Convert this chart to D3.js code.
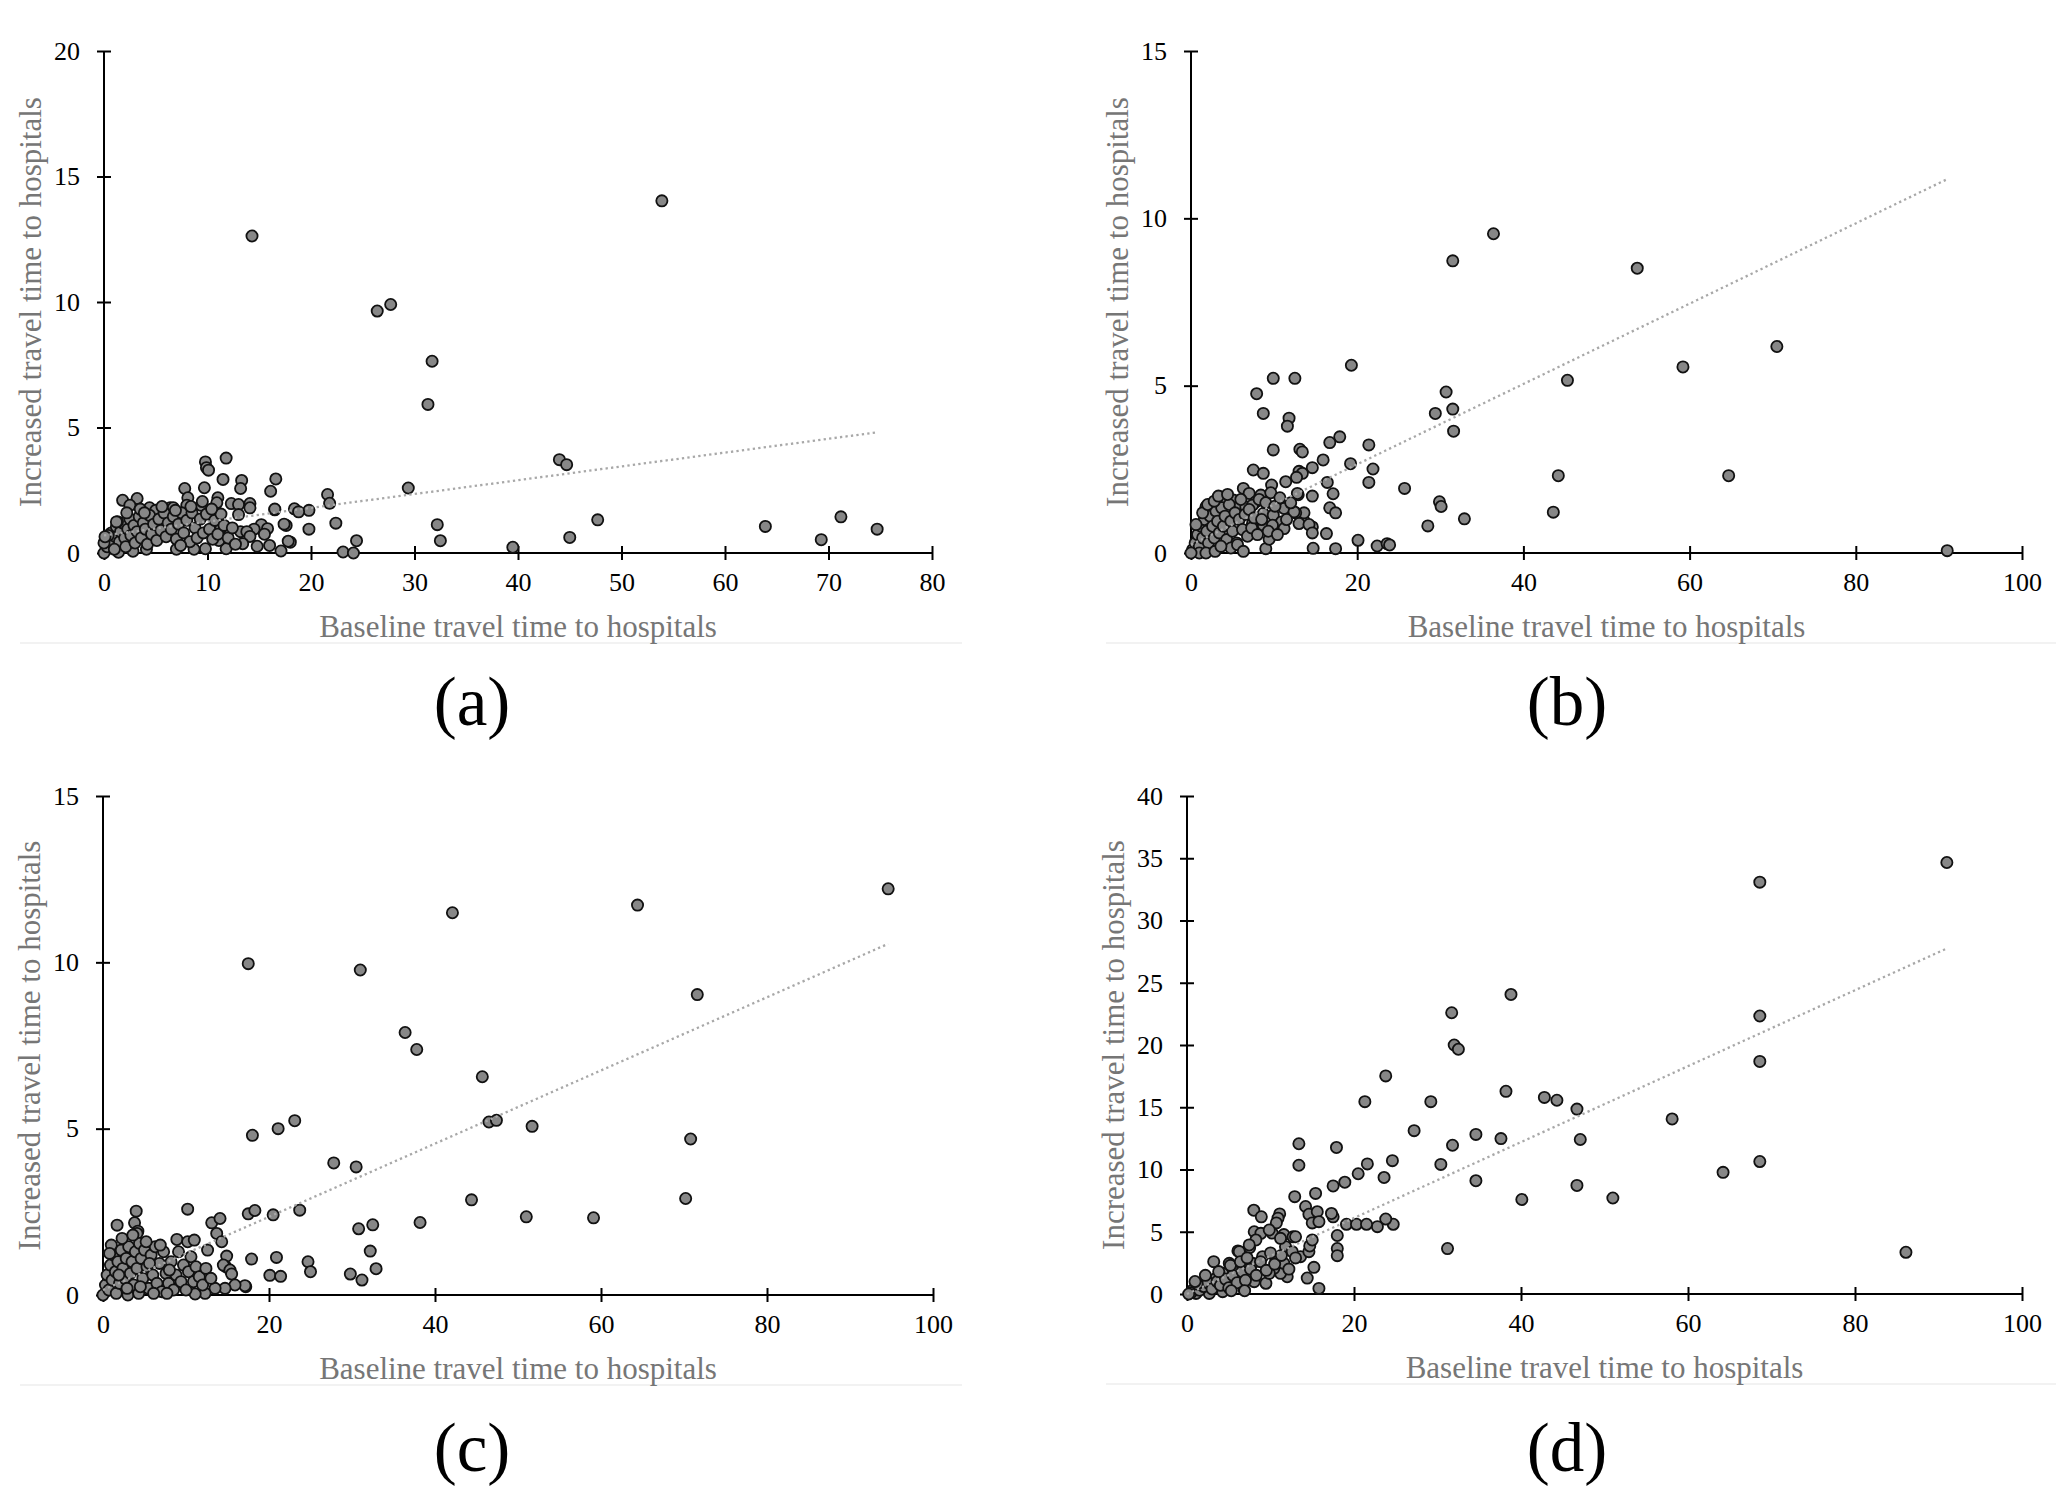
<!DOCTYPE html>
<html><head><meta charset="utf-8">
<script src="https://cdn.jsdelivr.net/npm/d3@7/dist/d3.min.js"></script>
<style>html,body{margin:0;padding:0;background:#fff;}svg{display:block;}</style>
</head><body>
<script>
// ---------------- data ----------------
const panelLabels = ["(a)", "(b)", "(c)", "(d)"];
const xTitle = "Baseline travel time to hospitals";
const yTitle = "Increased travel time to hospitals";

const xMaxes = [80, 100, 100, 100];
const yMaxes = [20, 15, 15, 40];
const xTickSteps = [10, 20, 20, 20];
const yTickSteps = [5, 5, 5, 5];

// linear trend lines: [intercept, slope, xStart, xEnd]
const trendA = [0.7, 0.055, 0, 74.7];
const trendB = [0.25, 0.12, 0, 91.0];
const trendC = [0.15, 0.11, 0, 94.6];
const trendD = [0.0, 0.305, 0, 91.0];

const pointsA = [
[14.3,12.63],[53.9,14.03],[26.4,9.64],[27.7,9.9],[31.7,7.64],[31.3,5.92],[29.4,2.59],[32.2,1.13],[32.5,0.49],[39.5,0.23],
[44.0,3.72],[44.7,3.52],[45.0,0.62],[47.7,1.32],[63.9,1.06],[69.3,0.53],[71.2,1.44],[74.7,0.95],
[21.6,2.33],[21.8,1.98],[22.4,1.19],[23.1,0.04],[24.1,0.0],[24.4,0.49],
[19.8,1.70],[19.8,0.95],[18.4,1.76],[18.8,1.64],[17.6,1.1],[18.0,0.43],[17.1,0.08],[16.6,2.95],[16.1,2.46],[16.5,1.72],
[11.8,3.78],[9.8,3.63],[9.9,3.4],[10.1,3.3],[11.5,2.93],[13.3,2.89],[13.2,2.57],[9.7,2.6],[7.8,2.57],
[12.3,1.97],[13.0,1.93],[14.1,1.97],[14.1,1.8],[13.0,1.53],[16.5,1.75],[17.4,1.15],[15.2,1.13],[15.8,0.97],[14.5,0.95],
[13.2,0.85],[13.8,0.85],[14.1,0.66],[13.4,0.37],[14.8,0.27],[17.8,0.47],[11.8,0.17],[9.8,0.17],[8.7,0.15],[7.0,0.15],
[4.1,0.15],[2.8,0.07],[1.4,0.03],[0.0,0.0],[11.3,0.99],[11.1,0.5],
[1.8,2.1],[3.2,2.17],[2.5,1.9],[11.0,2.2],[10.9,2.0],[8.1,2.2],[8.0,1.9],[9.4,1.9],[4.4,1.8],[5.0,1.7],[6.4,1.8],[6.7,1.8],
[0.3,0.25],[0.5,0.5],[0.7,0.8],[0.9,0.35],[1.1,0.65],[1.2,1.05],[1.5,0.45],[1.6,0.85],[1.8,1.2],[2.0,0.6],[2.1,0.25],
[2.3,0.95],[2.5,1.35],[2.6,0.7],[2.9,1.1],[3.0,0.4],[3.2,0.85],[3.4,1.45],[3.6,0.6],[3.8,1.2],[4.0,0.95],[4.2,0.35],
[4.4,1.5],[4.6,0.75],[4.8,1.15],[5.1,0.5],[5.3,1.35],[5.5,0.9],[5.8,1.6],[6.0,0.65],[6.2,1.2],[6.5,0.95],[6.7,1.45],
[7.0,0.55],[7.2,1.15],[7.5,1.6],[7.7,0.8],[8.0,1.3],[8.3,0.45],[8.5,1.6],[8.8,1.0],[9.0,0.6],[9.3,1.35],[9.6,0.8],
[9.9,1.55],[10.2,0.95],[10.5,0.55],[10.7,1.3],[11.0,0.75],[11.3,1.55],[11.6,1.1],[12.0,0.6],[2.2,1.6],[3.5,1.75],
[5.6,1.85],[6.9,1.7],[8.4,1.85],[9.5,2.05],[10.4,1.75],[0.4,0.7],[1.3,1.25],[1.0,0.15],[3.9,1.6],[7.4,0.3],[12.4,1.0],
[12.7,0.35],[15.5,0.75],[16.0,0.3],[1.2,1.24],[0.0,0.4],[0.1,0.65]
];

const pointsB = [
[36.4,9.54],[31.5,8.73],[53.7,8.51],[70.5,6.17],[59.2,5.56],[45.3,5.16],[19.3,5.61],[9.9,5.22],[12.5,5.22],[7.9,4.76],
[8.7,4.17],[11.8,4.03],[11.6,3.79],[30.7,4.81],[29.4,4.17],[31.5,4.3],[31.6,3.64],[9.9,3.08],[13.1,3.1],[13.4,3.02],
[17.9,3.47],[16.7,3.3],[21.4,3.23],[15.9,2.78],[19.2,2.67],[21.9,2.51],[7.5,2.48],[8.7,2.38],[14.6,2.55],[13.0,2.44],
[13.4,2.38],[44.2,2.31],[64.7,2.31],[25.7,1.93],[21.4,2.11],[16.4,2.11],[17.1,1.77],[14.6,1.7],[12.9,1.74],[11.4,2.13],
[29.9,1.53],[30.1,1.39],[32.9,1.02],[43.6,1.22],[28.5,0.81],[16.7,1.35],[17.4,1.2],[16.3,0.58],[14.6,0.78],[14.7,0.14],
[17.4,0.13],[20.1,0.38],[22.4,0.21],[23.6,0.28],[23.9,0.24],[91.0,0.07],[13.6,0.96],[13.6,1.2],[12.6,1.2],
[12.7,2.26],[9.7,2.03],[12.8,1.78],[6.3,1.93],[7.0,1.78],[8.4,1.73],[7.8,1.53],[3.5,1.68],[4.2,1.63],[1.8,1.38],[2.4,1.33],
[5.1,1.58],[5.9,1.43],[6.6,1.38],[7.4,1.43],[8.7,1.18],[9.9,1.13],[11.2,1.33],[10.9,0.93],[11.2,0.73],[12.4,1.23],
[13.0,0.88],[14.2,0.85],[14.6,0.6],[9.0,0.13],[9.4,0.41],[8.7,0.83],[7.4,0.88],[9.8,0.83],
[0.2,0.1],[0.5,0.3],[0.8,0.55],[1.0,0.2],[1.2,0.8],[1.4,0.45],[1.6,1.0],[1.9,0.65],[2.1,0.3],[2.3,1.1],[2.6,0.8],
[2.8,0.45],[3.0,1.25],[3.2,0.95],[3.4,0.6],[3.7,1.35],[3.9,0.8],[4.1,1.1],[4.3,0.4],[4.6,1.45],[4.8,0.95],[5.0,0.65],
[5.3,1.2],[5.5,0.3],[5.8,1.0],[6.0,1.6],[6.2,0.7],[6.5,1.15],[6.8,0.5],[7.0,1.3],[7.3,0.75],[7.6,1.05],[8.0,0.55],
[8.2,1.6],[8.5,1.0],[9.0,1.5],[9.3,0.65],[9.6,1.8],[10.1,1.4],[10.4,0.55],[10.7,1.65],[11.5,1.0],[12.0,1.5],[1.0,0.0],
[1.8,0.0],[2.9,0.05],[4.8,0.15],[5.6,0.25],[6.3,0.05],[3.6,0.2],[0.6,0.85],[1.4,1.2],[2.0,1.45],[2.8,1.55],[3.3,1.7],
[4.4,1.75],[0.0,0.0]
];

const pointsC = [
[94.6,12.21],[64.4,11.72],[42.1,11.49],[17.5,9.96],[31.0,9.77],[71.6,9.03],[36.4,7.89],[37.8,7.38],[45.7,6.56],[23.1,5.24],
[21.1,5.0],[18.0,4.8],[46.5,5.2],[47.4,5.25],[51.7,5.07],[70.8,4.69],[27.8,3.97],[30.5,3.85],[44.4,2.86],[70.2,2.9],
[51.0,2.35],[59.1,2.32],[38.2,2.18],[32.5,2.11],[30.8,1.99],[23.7,2.55],[20.5,2.41],[17.5,2.44],[18.3,2.54],[10.2,2.58],
[4.0,2.52],[1.7,2.1],[32.2,1.32],[32.9,0.79],[29.8,0.63],[31.2,0.45],[24.7,1.0],[25.0,0.7],[20.9,1.13],[20.1,0.59],
[21.4,0.56],[17.9,1.08],[17.2,0.25],
[3.8,2.17],[4.2,1.92],[4.1,1.85],[13.1,2.17],[14.1,2.3],[13.7,1.85],[14.3,1.6],[12.6,1.35],[8.9,1.67],[10.2,1.6],
[11.0,1.65],[14.9,1.17],[14.8,0.85],[14.5,0.9],[15.3,0.75],[15.5,0.63],[17.1,0.28],[15.9,0.3],[14.7,0.2],[13.5,0.2],
[12.3,0.05],[11.1,0.03],
[0.0,0.0],[0.3,0.3],[0.5,0.6],[0.7,0.15],[0.9,0.9],[1.1,0.45],[1.3,1.2],[1.5,0.7],[1.6,0.05],[1.8,1.0],[2.0,0.35],
[2.2,1.35],[2.4,0.8],[2.6,0.5],[2.8,1.1],[3.0,0.0],[3.1,1.45],[3.3,0.65],[3.5,1.0],[3.7,0.3],[3.9,1.3],[4.1,0.8],
[4.3,0.05],[4.4,1.55],[4.6,1.1],[4.8,0.5],[5.0,1.35],[5.3,0.85],[5.5,0.2],[5.8,1.2],[6.0,0.6],[6.3,1.45],[6.5,0.35],
[6.8,0.95],[7.1,0.1],[7.3,1.3],[7.6,0.65],[7.9,0.35],[8.2,1.0],[8.5,0.15],[8.8,0.6],[9.1,1.3],[9.4,0.4],[9.7,0.9],
[10.0,0.15],[10.3,0.7],[10.6,1.15],[10.9,0.4],[11.2,0.85],[11.6,0.55],[12.0,0.3],[12.4,0.8],[13.0,0.5],[2.3,1.7],
[1.0,1.5],[3.6,1.8],[5.2,1.6],[6.9,1.5],[0.8,1.25],[2.9,0.2],[4.5,0.25],[6.1,0.05],[7.7,0.05],[1.9,0.6],[5.6,0.95],[8.0,0.75]
];

const pointsD = [
[91.0,34.66],[68.6,33.08],[38.8,24.06],[31.7,22.59],[68.6,22.33],[32.0,20.0],[32.5,19.66],[68.6,18.68],[23.8,17.52],
[21.3,15.45],[29.2,15.45],[38.2,16.28],[42.8,15.79],[44.3,15.56],[46.7,14.85],[58.1,14.06],[27.2,13.12],[34.6,12.82],
[37.6,12.48],[47.1,12.41],[31.8,11.95],[13.4,12.07],[17.9,11.77],[13.4,10.34],[24.6,10.71],[30.4,10.41],[21.6,10.45],
[68.6,10.64],[64.2,9.77],[23.6,9.36],[20.5,9.66],[34.6,9.1],[18.9,8.98],[17.5,8.68],[46.7,8.72],[51.0,7.71],[40.1,7.59],
[15.4,8.08],[12.9,7.82],[86.1,3.35],[31.2,3.65],[24.7,5.6],[23.8,6.02],[22.8,5.41],[19.1,5.6],[20.3,5.6],[21.5,5.6],
[18.0,4.7],[18.0,3.65],[18.0,3.08],[17.5,6.2],[17.3,6.47],[14.2,7.03],[14.6,6.4],[15.0,5.71],[8.0,6.73],[8.9,6.2],
[11.1,6.43],[10.9,6.09],[10.2,4.89],[10.7,5.71],[11.6,4.77],[12.7,4.59],[6.1,3.46],[7.5,3.72],[3.2,2.6],[14.4,1.28],
[15.2,2.14],[15.8,0.45],[15.6,6.61],[15.8,5.81],
[8.05,5.0],[8.85,4.87],[9.85,5.14],[8.25,4.34],[7.45,3.94],[6.26,3.4],[13.6,3.0],[14.6,3.4],[14.7,3.86],[12.0,1.39],
[11.2,1.66],[10.4,2.06],[9.45,0.86],[8.05,0.99],[7.06,1.66],[5.86,1.93],[5.06,2.46],[4.27,1.66],[3.47,1.26],[2.27,1.12],
[1.48,0.72],[0.68,0.32],[5.26,0.32],[6.86,0.32],[4.27,0.19],[2.67,0.05],[1.08,0.05],[6.26,1.39],[9.85,1.66],[10.65,2.73],
[11.6,2.46],[9.05,3.0],[7.85,2.46],[6.66,2.2],[11.8,3.8],[11.2,4.47],[12.6,3.4],[13.0,4.6],[15.0,4.34],
[0.5,0.1],[1.5,0.3],[2.0,0.6],[2.5,0.9],[3.0,0.4],[3.6,1.0],[4.0,0.7],[4.6,1.2],[5.0,0.5],[5.5,1.5],[6.0,0.9],[6.6,1.8],
[7.0,1.1],[7.6,2.0],[8.3,1.5],[8.8,2.6],[9.5,1.9],[10.0,3.3],[10.5,2.4],[11.3,3.1],[12.2,2.0],[13.0,2.9],[1.2,0.8],
[2.2,1.5],[3.8,1.8],[5.2,2.3],[6.4,2.6],[7.2,2.9],[0.96,1.0],[6.9,0.26],[5.3,0.26],[0.2,0.0]
];

const allPoints = [pointsA, pointsB, pointsC, pointsD];
const allTrends = [trendA, trendB, trendC, trendD];

// ---------------- layout ----------------
const W = 2067, H = 1496;
const panels = [
  {left: 104, top: 51, width: 828, height: 502, labelX: 472, labelY: 709, frameX0: 20, frameX1: 962},
  {left: 1191, top: 51, width: 831, height: 502, labelX: 1567, labelY: 709, frameX0: 1106, frameX1: 2056},
  {left: 103, top: 796, width: 830, height: 499, labelX: 472, labelY: 1455, frameX0: 20, frameX1: 962},
  {left: 1187, top: 796, width: 835, height: 498, labelX: 1567, labelY: 1455, frameX0: 1106, frameX1: 2056}
];

const FONT = "'Liberation Serif','Times New Roman',serif";
const svg = d3.select("body").append("svg").attr("width", W).attr("height", H)
  .style("font-family", FONT);

svg.append("rect").attr("width", W).attr("height", H).attr("fill", "#fff");

panels.forEach((p, i) => {
  const x = d3.scaleLinear().domain([0, xMaxes[i]]).range([p.left, p.left + p.width]);
  const y = d3.scaleLinear().domain([0, yMaxes[i]]).range([p.top + p.height, p.top]);
  const g = svg.append("g");

  // faint chart-area bottom border
  g.append("line").attr("x1", p.frameX0).attr("x2", p.frameX1)
    .attr("y1", p.top + p.height + 90).attr("y2", p.top + p.height + 90)
    .attr("stroke", "#f2f2f2").attr("stroke-width", 2);

  const xTicks = d3.range(0, xMaxes[i] + 0.001, xTickSteps[i]);
  const yTicks = d3.range(0, yMaxes[i] + 0.001, yTickSteps[i]);

  // x axis (cross ticks)
  const xAxis = g.append("g").attr("transform", `translate(0,${p.top + p.height})`)
    .call(d3.axisBottom(x).tickValues(xTicks).tickSize(7).tickPadding(13).tickFormat(d3.format("d")));
  xAxis.select(".domain").attr("stroke", "#000").attr("stroke-width", 2).attr("d", `M${p.left},0H${p.left + p.width}`);
  xAxis.selectAll(".tick line").attr("stroke", "#000").attr("stroke-width", 2).attr("y1", -7).attr("y2", 7);
  xAxis.selectAll(".tick text").attr("fill", "#000").style("font-size", "26px").style("font-family", FONT);

  // y axis
  const yAxis = g.append("g").attr("transform", `translate(${p.left},0)`)
    .call(d3.axisLeft(y).tickValues(yTicks).tickSize(7).tickPadding(17).tickFormat(d3.format("d")));
  yAxis.select(".domain").attr("stroke", "#000").attr("stroke-width", 2).attr("d", `M0,${p.top + p.height}V${p.top}`);
  yAxis.selectAll(".tick line").attr("stroke", "#000").attr("stroke-width", 2).attr("x1", -7).attr("x2", 7);
  yAxis.selectAll(".tick text").attr("fill", "#000").style("font-size", "26px").style("font-family", FONT);

  // trend line
  const t = allTrends[i];
  const trendData = [t[2], t[3]].map(v => [v, t[0] + t[1] * v]);
  const trendLine = d3.line().x(d => x(d[0])).y(d => y(d[1]));

  // points
  g.append("g").selectAll("circle").data(allPoints[i]).join("circle")
    .attr("cx", d => x(d[0])).attr("cy", d => y(d[1])).attr("r", 5.6)
    .attr("fill", "#878787").attr("stroke", "#111").attr("stroke-width", 1.8);

  g.append("path").datum(trendData)
    .attr("d", trendLine)
    .attr("fill", "none").attr("stroke", "#a8a8a8").attr("stroke-width", 2.3)
    .attr("stroke-dasharray", "2.3,3.2");

  // axis titles
  g.append("text").attr("x", p.left + p.width / 2).attr("y", p.top + p.height + 77)
    .attr("text-anchor", "middle").attr("dominant-baseline", "middle")
    .attr("fill", "#767676").style("font-size", "31px").text(xTitle);
  g.append("text")
    .attr("transform", `translate(${p.left - 70},${p.top + p.height / 2}) rotate(-90)`)
    .attr("text-anchor", "middle").attr("dominant-baseline", "middle")
    .attr("fill", "#767676").style("font-size", "31px").text(yTitle);

  // panel label
  g.append("text").attr("x", p.labelX).attr("y", p.labelY)
    .attr("text-anchor", "middle").attr("dominant-baseline", "middle")
    .attr("fill", "#000").style("font-size", "69px").text(panelLabels[i]);
});
</script>
</body></html>
